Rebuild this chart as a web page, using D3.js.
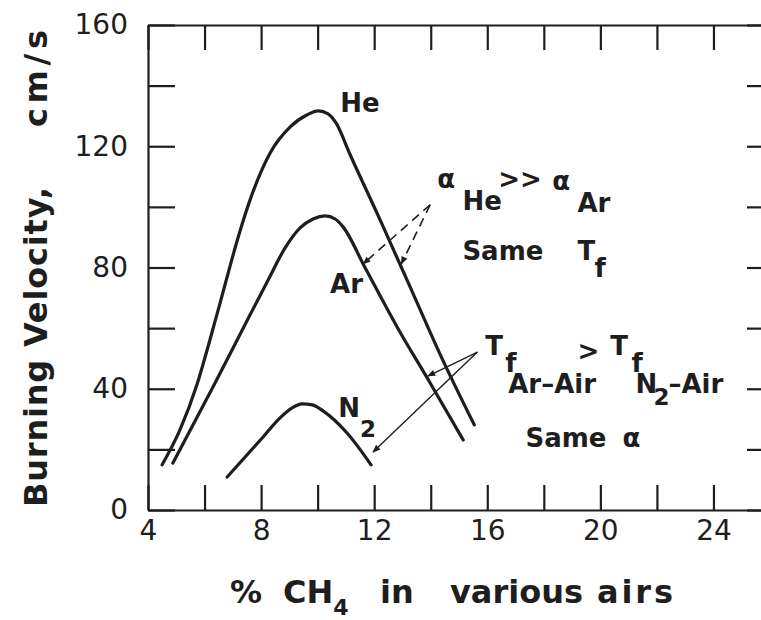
<!DOCTYPE html>
<html>
<head>
<meta charset="utf-8">
<script src="https://cdn.jsdelivr.net/npm/d3@7"></script>
<style>
  body { margin: 0; background: #fff; }
  svg { display: block; }
  text { font-family: "DejaVu Sans", sans-serif; fill: #1e1e1e; }
</style>
</head>
<body>
<svg id="chart"></svg>
<script>
// burning velocity (cm/s) vs % CH4
const heX = [4.5, 5.13, 5.73, 6.19, 6.58, 6.94, 7.29, 7.61, 8.32, 9.03, 9.63, 10.02, 10.37, 10.65, 11.15, 12.21, 13.27, 14.34, 15.54];
const heY = [14.9, 26.4, 41.3, 56.1, 69.3, 81.8, 93.1, 102.3, 117.8, 126.4, 130.4, 131.7, 130.7, 127.7, 117.2, 95.7, 73.6, 51.2, 28.1];
const arX = [4.88, 6.34, 7.61, 8.25, 8.85, 9.38, 9.84, 10.27, 10.62, 10.9, 11.68, 12.81, 13.98, 15.15];
const arY = [15.5, 41.3, 64.4, 75.9, 86.5, 93.1, 96.0, 97.0, 96.0, 93.4, 79.9, 60.4, 41.9, 23.1];
const n2X = [6.8, 8.07, 8.67, 9.1, 9.45, 9.81, 10.19, 11.04, 11.89];
const n2Y = [10.9, 24.1, 30.4, 33.7, 35.0, 34.7, 32.7, 25.4, 14.9];

const xTicks = [4, 6, 8, 10, 12, 14, 16, 18, 20, 22, 24, 26];
const xLabels = [4, 8, 12, 16, 20, 24];
const yTicks = [0, 20, 40, 60, 80, 100, 120, 140, 160];
const yLabels = [0, 40, 80, 120, 160];

// annotation arrows, in data units: [from, to]
const dashedArrows = [[[13.98, 100.7], [11.61, 81.2]], [[13.98, 100.7], [12.96, 81.2]]];
const solidArrows = [[[15.65, 52.1], [13.9, 44.2]], [[15.65, 52.1], [11.96, 19.1]]];

// annotation text pieces, in data units
const notes = [
  { t: "He", x: 10.8, y: 131.4 },
  { t: "Ar", x: 10.44, y: 71.6 },
  { t: "N", x: 10.73, y: 30.7 },
  { t: "2", x: 11.5, y: 24.1, small: true },
  { t: "α", x: 14.23, y: 106.3 },
  { t: "He", x: 15.12, y: 99.0 },
  { t: ">>", x: 16.39, y: 106.3 },
  { t: "α", x: 18.3, y: 105.6 },
  { t: "Ar", x: 19.19, y: 98.3 },
  { t: "Same", x: 15.12, y: 82.5 },
  { t: "T", x: 19.19, y: 82.5 },
  { t: "f", x: 19.79, y: 76.9 },
  { t: "T", x: 15.93, y: 51.2 },
  { t: "f", x: 16.64, y: 45.6 },
  { t: "Ar–Air", x: 16.74, y: 38.6 },
  { t: ">", x: 19.19, y: 49.5 },
  { t: "T", x: 20.35, y: 51.2 },
  { t: "f", x: 21.1, y: 45.6 },
  { t: "N", x: 21.24, y: 38.6 },
  { t: "2", x: 21.88, y: 34.7, small: true },
  { t: "–Air", x: 22.41, y: 38.6 },
  { t: "Same", x: 17.35, y: 20.8 },
  { t: "α", x: 20.78, y: 20.8 }
];

const W = 761, H = 620;
const margin = { top: 25, left: 148, right: -9, bottom: 110 };
const width = W - margin.left - margin.right;
const height = H - margin.top - margin.bottom;
const ink = "#1e1e1e";

const svg = d3.select("#chart").attr("width", W).attr("height", H);
const g = svg.append("g").attr("transform", `translate(${margin.left},${margin.top})`);

const x = d3.scaleLinear().domain([4, 26]).range([0, width]);
const y = d3.scaleLinear().domain([0, 160]).range([height, 0]);

function styleAxis(sel) {
  sel.attr("font-family", null).attr("font-size", null);
  sel.selectAll("path, line").attr("stroke", ink).attr("stroke-width", 2.2);
  sel.selectAll("text").attr("fill", ink).style("font-size", "28px");
}

g.append("g")
  .attr("transform", `translate(0,${height})`)
  .call(d3.axisBottom(x).tickValues(xTicks).tickSizeInner(-25).tickSizeOuter(0).tickPadding(10)
    .tickFormat(d => xLabels.includes(d) ? d : ""))
  .call(styleAxis);

g.append("g")
  .call(d3.axisTop(x).tickValues(xTicks).tickSizeInner(-25).tickSizeOuter(0).tickFormat(""))
  .call(styleAxis);

g.append("g")
  .call(d3.axisLeft(y).tickValues(yTicks).tickSizeInner(-27).tickSizeOuter(0).tickPadding(20)
    .tickFormat(d => yLabels.includes(d) ? d : ""))
  .call(styleAxis);

g.append("g")
  .attr("transform", `translate(${width},0)`)
  .call(d3.axisRight(y).tickValues(yTicks).tickSizeInner(-23).tickSizeOuter(0).tickFormat(""))
  .call(styleAxis);

// curves
const line = d3.line().x(d => x(d[0])).y(d => y(d[1])).curve(d3.curveMonotoneX);
[[heX, heY], [arX, arY], [n2X, n2Y]].forEach(([xs, ys]) => {
  g.append("path")
    .datum(xs.map((v, i) => [v, ys[i]]))
    .attr("fill", "none")
    .attr("stroke", ink)
    .attr("stroke-width", 3.2)
    .attr("stroke-linejoin", "round")
    .attr("stroke-linecap", "round")
    .attr("d", line);
});

// arrow heads
svg.append("defs").append("marker")
  .attr("id", "head")
  .attr("viewBox", "0 0 10 10")
  .attr("refX", 9).attr("refY", 5)
  .attr("markerWidth", 10).attr("markerHeight", 8)
  .attr("markerUnits", "userSpaceOnUse")
  .attr("orient", "auto")
  .append("path").attr("d", "M0,1 L10,5 L0,9 Z").attr("fill", ink);

g.selectAll(".dash-arrow")
  .data(dashedArrows)
  .join("line")
  .attr("x1", d => x(d[0][0])).attr("y1", d => y(d[0][1]))
  .attr("x2", d => x(d[1][0])).attr("y2", d => y(d[1][1]))
  .attr("stroke", ink).attr("stroke-width", 1.6)
  .attr("stroke-dasharray", "9,6")
  .attr("marker-end", "url(#head)");

g.selectAll(".solid-arrow")
  .data(solidArrows)
  .join("line")
  .attr("x1", d => x(d[0][0])).attr("y1", d => y(d[0][1]))
  .attr("x2", d => x(d[1][0])).attr("y2", d => y(d[1][1]))
  .attr("stroke", ink).attr("stroke-width", 1.4)
  .attr("marker-end", "url(#head)");

// annotation text
g.selectAll(".note")
  .data(notes)
  .join("text")
  .attr("x", d => x(d.x)).attr("y", d => y(d.y))
  .style("font-size", d => d.small ? "23px" : "26px")
  .style("font-weight", "bold")
  .text(d => d.t);

// axis titles
const xt = svg.append("text").attr("y", 603).style("font-size", "32px").style("font-weight", "bold");
xt.append("tspan").attr("x", 230).text("%");
xt.append("tspan").attr("x", 283).text("CH");
xt.append("tspan").attr("dy", 12).style("font-size", "22px").text("4");
xt.append("tspan").attr("x", 380).attr("dy", -12).text("in");
xt.append("tspan").attr("x", 450).text("various");
xt.append("tspan").attr("x", 597).attr("textLength", 76).attr("lengthAdjust", "spacing").text("airs");

svg.append("text")
  .attr("transform", "translate(47,507) rotate(-90)")
  .attr("textLength", 320).attr("lengthAdjust", "spacing")
  .style("font-size", "32px").style("font-weight", "bold")
  .text("Burning Velocity,");
svg.append("text")
  .attr("transform", "translate(47,127) rotate(-90)")
  .attr("textLength", 97).attr("lengthAdjust", "spacing")
  .style("font-size", "32px").style("font-weight", "bold")
  .text("cm/s");
</script>
</body>
</html>
